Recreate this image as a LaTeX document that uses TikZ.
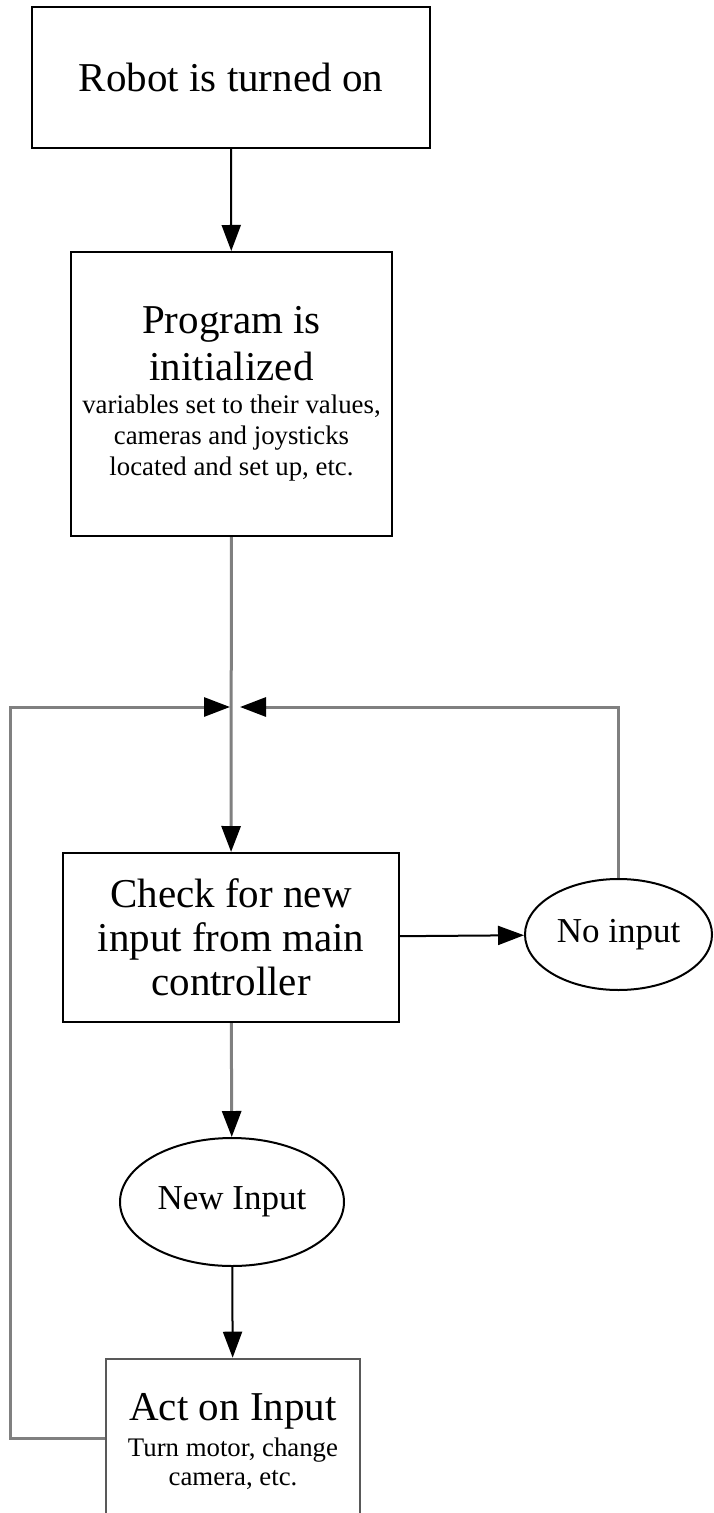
\documentclass[tikz,border=0pt]{standalone}
\usepackage{fontspec}
\setmainfont{Liberation Serif}
\usetikzlibrary{arrows.meta,positioning,shapes.geometric}
\definecolor{linegray}{RGB}{128,128,128}
\newcommand{\bigtext}{\fontsize{20.5}{15.5}\selectfont}
\newcommand{\smalltext}{\fontsize{13.4}{15.5}\selectfont}
\newcommand{\choicetext}{\fontsize{17.5}{15.5}\selectfont}
\lineskiplimit=-100pt

\begin{document}
\begin{tikzpicture}[x=0.5pt, y=-0.5pt, >=Triangle,
  procbox/.style={draw, line width=1pt, align=center, inner sep=0pt, font=\bigtext},
  choice/.style={draw, ellipse, line width=1pt, inner sep=0pt, font=\choicetext},
  flow/.style={-{Triangle[length=13pt, width=9.5pt]}, line width=1pt},
  loopline/.style={draw=linegray, line width=1.5pt},
  grayflow/.style={loopline, -{Triangle[length=13pt, width=9.5pt, color=black]}}]
  \useasboundingbox (0,0) rectangle (713,1513);
  \clip (0,0) rectangle (713,1513);
  \fill[white] (0,0) rectangle (713,1513);

  \node[procbox, minimum width=199pt, minimum height=70.5pt] (robot) at (231,77.5) {Robot is turned on};
  \node[procbox, minimum width=160.5pt, minimum height=142pt] (init) at (231.5,394)
    {Program is\\[8pt]initialized\\[1pt]\smalltext variables set to their values,\\
     \smalltext cameras and joysticks\\\smalltext located and set up, etc.};
  \node[procbox, minimum width=168pt, minimum height=84.5pt] (check) at (231,937.5)
    {Check for new\\[6.5pt]input from main\\[6.5pt]controller};
  \node[choice, minimum width=93.5pt, minimum height=55.5pt] (noinput) at (618.5,934.5) {No input};
  \node[choice, minimum width=112pt, minimum height=64pt] (newinput) at (232,1202) {New Input};
  \node[procbox, draw=black!65, line width=1.3pt, minimum width=127pt, minimum height=83pt] (act) at (233,1442)
    {Act on Input\\[2.5pt]\smalltext Turn motor, change\\[-1pt]\smalltext camera, etc.};

  \coordinate (mergeL) at (230,707);
  \coordinate (mergeR) at (240,707);
  \coordinate (loopcorner) at (10,707);

  \draw[flow] (robot) -- (init);
  \draw[grayflow] (init) -- (check);
  \draw[flow] (check) -- (noinput);
  \draw[grayflow] (check) -- (newinput);
  \draw[flow] (newinput) -- (act);
  \draw[grayflow] ([yshift=2pt]act.west) -| (loopcorner) -- (mergeL);
  \draw[grayflow] (noinput.north) |- (mergeR);
\end{tikzpicture}
\end{document}
